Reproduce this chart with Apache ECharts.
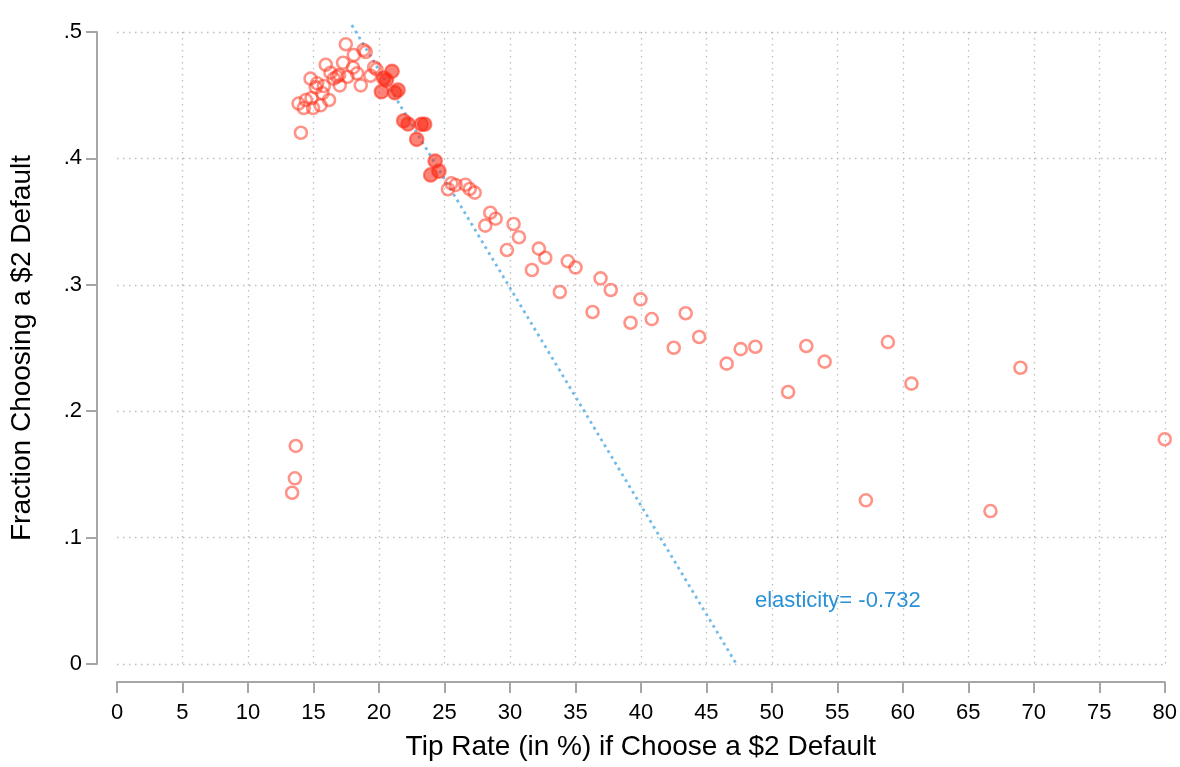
<!DOCTYPE html>
<html>
<head>
<meta charset="utf-8">
<script src="https://cdn.jsdelivr.net/npm/echarts@6/dist/echarts.min.js"></script>
<style>
html, body { margin: 0; padding: 0; background: #fff; }
#main { width: 1180px; height: 767px; }
</style>
</head>
<body>
<div id="main"></div>
<script>
// hollow markers: tip rate (%) and fraction choosing $2 default
var tipRate = [17.47, 18.08, 18.82, 18.99, 15.94, 17.26, 18.02, 18.33, 18.61, 19.35,
  19.63, 19.81, 16.30, 16.55, 16.80, 16.96, 17.60, 17.01, 14.78, 15.28,
  15.18, 15.79, 15.69, 16.19, 15.54, 14.85, 14.42, 14.97, 13.86, 14.26,
  14.04, 25.53, 25.27, 25.86, 26.60, 26.93, 27.31, 28.50, 28.91, 28.12,
  30.28, 30.69, 29.77, 32.21, 32.70, 31.68, 34.42, 35.01, 33.81, 36.92,
  37.70, 36.31, 39.97, 39.21, 40.83, 43.42, 44.45, 42.51, 46.55, 47.62,
  48.74, 51.24, 52.63, 54.03, 58.86, 60.66, 57.18, 66.69, 68.98, 80.0,
  13.65, 13.58, 13.37];
var fracDefault = [0.4903, 0.4818, 0.4858, 0.4842, 0.4741, 0.4757, 0.4718, 0.4673, 0.4578, 0.4654,
  0.4721, 0.4705, 0.4678, 0.4631, 0.4646, 0.4660, 0.4646, 0.4578, 0.4631, 0.4594,
  0.4562, 0.4573, 0.4515, 0.4462, 0.4420, 0.4478, 0.4462, 0.4399, 0.4434, 0.4399,
  0.4203, 0.3803, 0.3756, 0.3790, 0.3792, 0.3758, 0.3729, 0.3570, 0.3523, 0.3468,
  0.3481, 0.3376, 0.3275, 0.3286, 0.3214, 0.3117, 0.3186, 0.3137, 0.2943, 0.3051,
  0.2959, 0.2785, 0.2885, 0.2700, 0.2729, 0.2775, 0.2587, 0.2502, 0.2376, 0.2491,
  0.2510, 0.2152, 0.2516, 0.2392, 0.2547, 0.2218, 0.1295, 0.1210, 0.2344, 0.1778,
  0.1725, 0.1469, 0.1355];

// filled markers
var tipRateFilled = [21.00, 20.37, 20.57, 20.19, 21.21, 21.46, 21.89, 22.22, 23.24, 23.49,
  22.88, 24.29, 24.58, 23.95];
var fracFilled = [0.4689, 0.4636, 0.4620, 0.4528, 0.4520, 0.4541, 0.4298, 0.4272, 0.4270, 0.4270,
  0.4151, 0.3979, 0.3899, 0.3869];

// fitted line
var fitX = [17.93, 47.29];
var fitY = [0.5055, 0];

var yTickLabels = ['0', '.1', '.2', '.3', '.4', '.5'];

function zip(a, b) {
  return a.map(function (v, i) { return [v, b[i]]; });
}

var chart = echarts.init(document.getElementById('main'));
var font = 'Liberation Sans, Arial, Helvetica, sans-serif';
var axisGray = '#a6a6a6';

chart.setOption({
  animation: false,
  textStyle: { fontFamily: font },
  grid: { left: 117, right: 14, top: 32, bottom: 103 },
  xAxis: {
    type: 'value',
    min: 0,
    max: 80,
    interval: 5,
    offset: 18,
    name: 'Tip Rate (in %) if Choose a $2 Default',
    nameLocation: 'middle',
    nameGap: 51,
    nameTextStyle: { fontSize: 28, color: '#000', fontFamily: font },
    axisLine: { show: true, onZero: false, lineStyle: { color: axisGray, width: 2 } },
    axisTick: { show: true, length: 11, lineStyle: { color: axisGray, width: 2 } },
    axisLabel: { fontSize: 22, color: '#000', margin: 20, fontFamily: font },
    splitLine: {
      show: true,
      showMinLine: false,
      lineStyle: { color: '#bdbdbd', width: 1.3, type: [1.5, 4.5] }
    }
  },
  yAxis: {
    type: 'value',
    min: 0,
    max: 0.5,
    interval: 0.1,
    offset: 20,
    name: 'Fraction Choosing a $2 Default',
    nameLocation: 'middle',
    nameGap: 61,
    nameTextStyle: { fontSize: 28, color: '#000', fontFamily: font },
    axisLine: { show: true, onZero: false, lineStyle: { color: axisGray, width: 2 } },
    axisTick: { show: true, length: 11, lineStyle: { color: axisGray, width: 2 } },
    axisLabel: {
      fontSize: 22,
      color: '#000',
      margin: 15,
      fontFamily: font,
      formatter: function (v) { return yTickLabels[Math.round(v * 10)]; }
    },
    splitLine: {
      show: true,
      lineStyle: { color: '#bdbdbd', width: 1.3, type: [1.5, 4.5] }
    }
  },
  series: [
    {
      type: 'line',
      data: zip(fitX, fitY),
      symbol: 'none',
      clip: false,
      lineStyle: { color: '#74bbe6', width: 2.8, type: [2.8, 4] },
      z: 1
    },
    {
      type: 'scatter',
      data: zip(tipRate, fracDefault),
      symbol: 'circle',
      symbolSize: 12,
      itemStyle: {
        color: 'rgba(255,255,255,0)',
        borderColor: 'rgba(255,55,35,0.68)',
        borderWidth: 2.6
      },
      z: 3
    },
    {
      type: 'scatter',
      data: zip(tipRateFilled, fracFilled),
      symbol: 'circle',
      symbolSize: 13.5,
      itemStyle: {
        color: 'rgba(250,40,20,0.72)',
        borderColor: 'rgba(255,45,25,0.72)',
        borderWidth: 2.2
      },
      z: 4
    }
  ],
  graphic: [
    {
      type: 'text',
      left: 755,
      top: 590,
      style: {
        text: 'elasticity= -0.732',
        fontSize: 22,
        fill: '#2b91d6',
        fontFamily: font
      }
    }
  ]
});
</script>
</body>
</html>
